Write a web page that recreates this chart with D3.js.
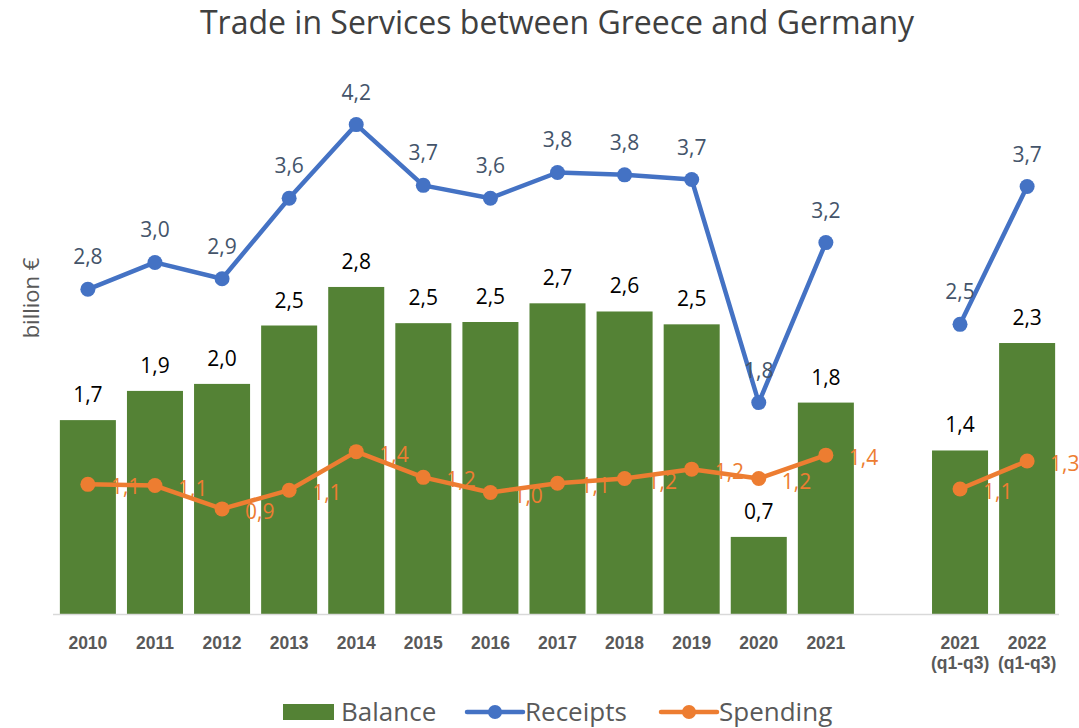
<!DOCTYPE html>
<html>
<head>
<meta charset="utf-8">
<script src="https://cdn.jsdelivr.net/npm/d3@7"></script>
<style>
  body { margin: 0; background: #fff; }
  svg { font-family: "Open Sans", "Noto Sans", sans-serif; }
</style>
</head>
<body>
<svg id="chart" width="1079" height="728"></svg>
<script>
// categories ('gap' = empty slot between the yearly and the quarterly part)
const categories = ['2010', '2011', '2012', '2013', '2014', '2015', '2016', '2017', '2018', '2019', '2020', '2021', 'gap', '2021q', '2022q'];
const tickLines = {
    '2021q': ['2021', '(q1-q3)'],
    '2022q': ['2022', '(q1-q3)']
};

const balance  = [1.66, 1.91, 1.97, 2.47, 2.80, 2.49, 2.50, 2.66, 2.59, 2.48, 0.66, 1.81, null, 1.40, 2.32];
const receipts = [2.78, 3.01, 2.87, 3.56, 4.19, 3.67, 3.56, 3.78, 3.76, 3.72, 1.81, 3.18, null, 2.48, 3.66];
const spending = [1.11, 1.10, 0.90, 1.06, 1.39, 1.17, 1.04, 1.12, 1.16, 1.24, 1.16, 1.36, null, 1.07, 1.31];

const green = '#548235';
const blue = '#4472C4';
const orange = '#ED7D31';

const svg = d3.select('#chart');

const x = d3.scaleBand()
    .domain(categories)
    .range([54.5, 1060.5])
    .paddingInner(0.165)
    .paddingOuter(0.08);

const y = d3.scaleLinear()
    .domain([0, 4.5])
    .range([614, 614 - 4.5 * 116.8]);

const fmt = v => v.toFixed(1).replace('.', ',');
const cx = c => x(c) + x.bandwidth() / 2;

// title
svg.append('text')
    .attr('x', 557)
    .attr('y', 34)
    .attr('text-anchor', 'middle')
    .style('font-size', '32px')
    .style('fill', '#404040')
    .text('Trade in Services between Greece and Germany');

// y label
svg.append('text')
    .attr('transform', 'translate(39,298) rotate(-90)')
    .attr('text-anchor', 'middle')
    .style('font-size', '22px')
    .style('fill', '#595959')
    .text('billion €');

// bars
const barData = categories.map((c, i) => ({ c, v: balance[i] })).filter(d => d.v != null);

svg.append('g').selectAll('rect')
    .data(barData)
    .join('rect')
    .attr('x', d => x(d.c))
    .attr('y', d => y(d.v))
    .attr('width', x.bandwidth())
    .attr('height', d => y(0) - y(d.v))
    .style('fill', green);

// x axis
const axis = svg.append('g')
    .attr('transform', `translate(0,${y(0)})`)
    .call(d3.axisBottom(x).tickSize(0).tickFormat(''));
axis.select('.domain').attr('stroke', '#d9d9d9').attr('stroke-width', 1.5)
    .attr('d', `M53,0.5H1059`);

axis.selectAll('.tick').each(function (c) {
    if (c === 'gap') return;
    const lines = tickLines[c] || [c];
    const t = d3.select(this).append('text')
        .attr('text-anchor', 'middle')
        .style('font-size', '17.5px')
        .style('font-weight', 'bold')
        .style('fill', '#595959');
    lines.forEach((l, k) => {
        t.append('tspan').attr('x', 0).attr('y', 35 + k * 20).text(l);
    });
});

// bar labels
svg.append('g').selectAll('text')
    .data(barData)
    .join('text')
    .attr('x', d => cx(d.c))
    .attr('y', d => y(d.v) - 18)
    .attr('text-anchor', 'middle')
    .style('font-size', '21px')
    .style('fill', '#000')
    .text(d => fmt(d.v));

function drawSeries(values, color) {
    const pts = categories.map((c, i) => ({ c, v: values[i] }));
    const line = d3.line()
        .defined(d => d.v != null)
        .x(d => cx(d.c))
        .y(d => y(d.v));
    svg.append('path')
        .datum(pts)
        .attr('d', line)
        .style('fill', 'none')
        .style('stroke', color)
        .style('stroke-width', 4.5)
        .style('stroke-linejoin', 'round');
    svg.append('g').selectAll('circle')
        .data(pts.filter(d => d.v != null))
        .join('circle')
        .attr('cx', d => cx(d.c))
        .attr('cy', d => y(d.v))
        .attr('r', 7.5)
        .style('fill', color);
    return pts.filter(d => d.v != null);
}

const rPts = drawSeries(receipts, blue);
svg.append('g').selectAll('text')
    .data(rPts)
    .join('text')
    .attr('x', d => cx(d.c))
    .attr('y', d => y(d.v) - 25)
    .attr('text-anchor', 'middle')
    .style('font-size', '21px')
    .style('fill', '#44546A')
    .text(d => fmt(d.v));

const sPts = drawSeries(spending, orange);
svg.append('g').selectAll('text')
    .data(sPts)
    .join('text')
    .attr('x', d => cx(d.c) + 23)
    .attr('y', d => y(d.v) + 10)
    .style('font-size', '21px')
    .style('fill', orange)
    .text(d => fmt(d.v));

// legend
const legend = svg.append('g').attr('transform', 'translate(0,712)');
legend.append('rect').attr('x', 283).attr('y', -8).attr('width', 51).attr('height', 16).style('fill', green);
legend.append('text').attr('x', 341).attr('y', 9).style('font-size', '26px').style('fill', '#595959').text('Balance');

[[467, blue, 'Receipts'], [661, orange, 'Spending']].forEach(([lx, col, name]) => {
    legend.append('line').attr('x1', lx).attr('x2', lx + 56).attr('y1', 0).attr('y2', 0)
        .style('stroke', col).style('stroke-width', 4.5).style('stroke-linecap', 'round');
    legend.append('circle').attr('cx', lx + 28).attr('cy', 0).attr('r', 7).style('fill', col);
    legend.append('text').attr('x', lx + 58).attr('y', 9).style('font-size', '26px').style('fill', '#595959').text(name);
});
</script>
</body>
</html>
